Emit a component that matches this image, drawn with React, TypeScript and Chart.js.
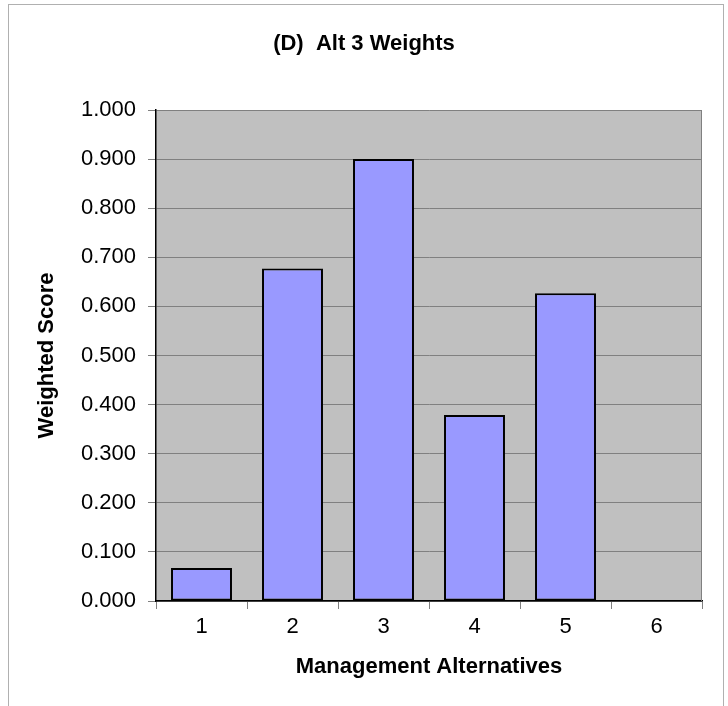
import React, { useEffect, useRef } from "react";
import { Chart, registerables } from "chart.js";

Chart.register(...registerables);

const categories = ["1", "2", "3", "4", "5", "6"];
const weightedScores = [0.067, 0.677, 0.9, 0.379, 0.627, 0];
const chartTitle = "(D)  Alt 3 Weights";
const xTitle = "Management Alternatives";
const yTitle = "Weighted Score";

const FONT = "'Liberation Sans', Arial, sans-serif";

const plotBg = {
  id: "plotBg",
  beforeDraw(chart: any) {
    const { ctx, chartArea } = chart;
    ctx.save();
    ctx.fillStyle = "#C0C0C0";
    ctx.fillRect(chartArea.left, chartArea.top, chartArea.right - chartArea.left, chartArea.bottom - chartArea.top);
    ctx.restore();
  },
  afterDatasetsDraw(chart: any) {
    const { ctx, chartArea } = chart;
    ctx.save();
    ctx.strokeStyle = "#808080";
    ctx.lineWidth = 1;
    ctx.beginPath();
    ctx.moveTo(chartArea.right - 0.5, chartArea.top);
    ctx.lineTo(chartArea.right - 0.5, chartArea.bottom);
    ctx.stroke();
    ctx.restore();
  },
  afterDraw(chart: any) {
    const { ctx, width } = chart;
    ctx.save();
    ctx.fillStyle = "#000";
    ctx.font = `bold 22px ${FONT}`;
    ctx.textAlign = "center";
    ctx.textBaseline = "middle";
    ctx.fillText(chartTitle, width / 2, 44);
    ctx.restore();
  },
};

export default function App() {
  const ref = useRef<HTMLCanvasElement>(null);
  useEffect(() => {
    if (!ref.current) return;
    const chart = new Chart(ref.current, {
      type: "bar",
      data: {
        labels: categories,
        datasets: [
          {
            data: weightedScores,
            backgroundColor: "#9999FF",
            borderColor: "#000000",
            borderWidth: 2,
            borderSkipped: false,
            barPercentage: 0.67,
            categoryPercentage: 1,
          },
        ],
      },
      options: {
        animation: false,
        responsive: false,
        devicePixelRatio: 1,
        layout: { padding: { left: 0, right: 26, top: 110, bottom: 0 } },
        plugins: {
          legend: { display: false },
          tooltip: { enabled: false },
          title: { display: false },
        },
        scales: {
          x: {
            offset: true,
            grid: {
              offset: true,
              drawOnChartArea: false,
              drawTicks: true,
              tickLength: 8,
              color: "#808080",
              tickColor: "#808080",
            },
            border: { color: "#000", width: 1.5 },
            ticks: { color: "#000", font: { family: FONT, size: 22 }, padding: 5, maxRotation: 0 },
            title: {
              display: true,
              text: xTitle,
              color: "#000",
              font: { family: FONT, size: 22, weight: "bold" },
              padding: { top: 0, bottom: 26 },
            },
            afterFit(scale: any) {
              scale.height = 105;
            },
          },
          y: {
            min: 0,
            max: 1,
            grid: { color: "#808080", tickColor: "#808080", tickLength: 8, lineWidth: 1 },
            border: { color: "#000", width: 1.5 },
            ticks: {
              stepSize: 0.1,
              color: "#000",
              font: { family: FONT, size: 22 },
              padding: 12,
              callback: (v: any) => Number(v).toFixed(3),
            },
            title: {
              display: true,
              text: yTitle,
              color: "#000",
              font: { family: FONT, size: 22, weight: "bold" },
              padding: { top: 34, bottom: 0 },
            },
            afterFit(scale: any) {
              scale.width = 156;
            },
          },
        },
      },
      plugins: [plotBg],
    });
    return () => chart.destroy();
  }, []);

  return (
    <div>
      <div
        style={{
          position: "fixed",
          left: 8,
          top: 4,
          width: 716,
          height: 720,
          border: "1px solid #b0b0b0",
          boxSizing: "border-box",
        }}
      />
      <canvas
        ref={ref}
        width={728}
        height={706}
        style={{ position: "fixed", left: 0, top: 0, width: 728, height: 706 }}
      />
    </div>
  );
}
